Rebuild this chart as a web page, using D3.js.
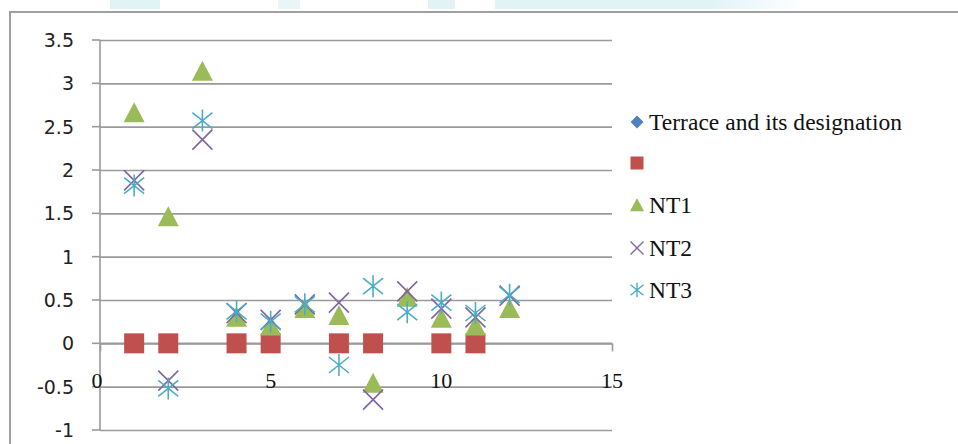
<!DOCTYPE html>
<html>
<head>
<meta charset="utf-8">
<script src="https://cdn.jsdelivr.net/npm/d3@7/dist/d3.min.js"></script>
<style>
html,body{margin:0;padding:0;background:#fff;}
svg{display:block;}
</style>
</head>
<body>
<svg id="chart" width="958" height="444"></svg>
<script>
// ---- data ----
const xValues = [1, 2, 3, 4, 5, 6, 7, 8, 9, 10, 11, 12];
const terraceValues = [];
const redX = [1, 2, 4, 5, 7, 8, 10, 11];
const redValues = [0, 0, 0, 0, 0, 0, 0, 0];
const nt1Values = [2.66, 1.46, 3.14, 0.3, 0.2, 0.4, 0.32, -0.46, 0.53, 0.29, 0.2, 0.4];
const nt2Values = [1.88, -0.43, 2.35, 0.35, 0.27, 0.45, 0.47, -0.65, 0.6, 0.4, 0.3, 0.55];
const nt3Values = [1.82, -0.52, 2.57, 0.37, 0.25, 0.45, -0.25, 0.66, 0.36, 0.47, 0.35, 0.56];
const yTicks = [-1, -0.5, 0, 0.5, 1, 1.5, 2, 2.5, 3, 3.5];
const xTicks = [0, 5, 10, 15];
const legendNames = ["Terrace and its designation", "", "NT1", "NT2", "NT3"];

const svg = d3.select("#chart");

// faint watermark band at top
const defs = svg.append("defs");
const grad = defs.append("linearGradient").attr("id", "wmfade").attr("x1", 0).attr("x2", 1);
grad.append("stop").attr("offset", "0%").attr("stop-color", "#e2f3f8");
grad.append("stop").attr("offset", "70%").attr("stop-color", "#e2f3f8");
grad.append("stop").attr("offset", "100%").attr("stop-color", "#ffffff");
const wm = [[110,50,"#e2f3f8"],[278,22,"#e8f5f9"],[428,27,"#e2f3f8"],[495,310,"url(#wmfade)"]];
svg.selectAll("rect.wm").data(wm).enter().append("rect")
  .attr("x", d => d[0]).attr("y", 0).attr("width", d => d[1]).attr("height", 9)
  .attr("fill", d => d[2]);

// frame
svg.append("rect").attr("x", 10).attr("y", 12).attr("width", 960).attr("height", 450)
  .attr("fill", "#fff").attr("stroke", "#a0a0a0").attr("stroke-width", 2);

const x = d3.scaleLinear().domain([0, 15]).range([100, 612]);
const y = d3.scaleLinear().domain([-1, 3.5]).range([430, 40]);

// y gridlines via axis
const yAxis = d3.axisLeft(y).tickValues(yTicks).tickSize(-(612 - 100)).tickFormat("");
const gy = svg.append("g").attr("transform", "translate(100,0)").call(yAxis);
gy.select(".domain").remove();
gy.selectAll("line").attr("stroke", "#9a9a9a").attr("stroke-width", 1.6);
// outer tick parts
svg.selectAll("line.ytick").data(yTicks).enter().append("line")
  .attr("x1", 92).attr("x2", 100).attr("y1", d => y(d)).attr("y2", d => y(d))
  .attr("stroke", "#9a9a9a").attr("stroke-width", 1.6);
// y axis line
svg.append("line").attr("x1", 100).attr("x2", 100).attr("y1", y(3.5)).attr("y2", y(-1))
  .attr("stroke", "#9a9a9a").attr("stroke-width", 1.6);
// y labels
svg.selectAll("text.ylab").data(yTicks).enter().append("text")
  .attr("x", 74).attr("y", d => y(d)).attr("dy", "0.36em")
  .attr("text-anchor", "end")
  .attr("font-family", "DejaVu Sans, sans-serif").attr("font-size", 19).attr("fill", "#222")
  .text(d => d);

// x axis at y = 0
const xAxis = d3.axisBottom(x).tickValues(xTicks).tickSize(8).tickFormat("");
const gx = svg.append("g").attr("transform", `translate(0,${y(0)})`).call(xAxis);
gx.select(".domain").attr("stroke", "#9a9a9a").attr("stroke-width", 1.6)
  .attr("d", `M${x(0)},0H${x(15)}`);
gx.selectAll("line").attr("stroke", "#9a9a9a").attr("stroke-width", 1.6);
svg.selectAll("text.xlab").data(xTicks).enter().append("text")
  .attr("x", d => x(d) - (d === 0 ? 3 : 0)).attr("y", 380).attr("dy", "0.36em")
  .attr("text-anchor", "middle")
  .attr("font-family", "Liberation Serif, serif").attr("font-size", 22).attr("fill", "#111")
  .text(d => d);

// marker shapes
const colors = ["#4f81bd", "#c0504d", "#9bbb59", "#8064a2", "#4bacc6"];
function diamond(s){ return `M0,${-s}L${s},0L0,${s}L${-s},0Z`; }
function square(s){ return `M${-s},${-s}H${s}V${s}H${-s}Z`; }
function tri(s){ return `M0,${-s}L${s},${s*0.9}L${-s},${s*0.9}Z`; }
function cross(s){ return `M${-s},${-s}L${s},${s}M${-s},${s}L${s},${-s}`; }
function star(s){ return `M${-s},${-s*0.8}L${s},${s*0.8}M${-s},${s*0.8}L${s},${-s*0.8}M0,${-s*1.1}V${s*1.1}`; }

const pts = svg.append("g");
pts.selectAll("path.red").data(redValues).enter().append("path")
  .attr("transform", (d, i) => `translate(${x(redX[i])},${y(d)})`)
  .attr("d", square(10)).attr("fill", colors[1]);
pts.selectAll("path.nt1").data(nt1Values).enter().append("path")
  .attr("transform", (d, i) => `translate(${x(xValues[i])},${y(d)})`)
  .attr("d", tri(10.5)).attr("fill", colors[2]);
pts.selectAll("path.nt2").data(nt2Values).enter().append("path")
  .attr("transform", (d, i) => `translate(${x(xValues[i])},${y(d)})`)
  .attr("d", cross(10)).attr("fill", "none").attr("stroke", colors[3]).attr("stroke-width", 1.6);
pts.selectAll("path.nt3").data(nt3Values).enter().append("path")
  .attr("transform", (d, i) => `translate(${x(xValues[i])},${y(d)})`)
  .attr("d", star(10)).attr("fill", "none").attr("stroke", colors[4]).attr("stroke-width", 1.6);

// legend
const legY = [122, 163, 205, 248, 290];
const legShapes = [diamond(6.5), square(6.5), tri(7), cross(6.5), star(6.5)];
const leg = svg.append("g");
legendNames.forEach((name, i) => {
  const p = leg.append("path").attr("transform", `translate(637,${legY[i]})`).attr("d", legShapes[i]);
  if (i >= 3) p.attr("fill", "none").attr("stroke", colors[i]).attr("stroke-width", 1.4);
  else p.attr("fill", colors[i]);
  leg.append("text").attr("x", 649).attr("y", legY[i]).attr("dy", "0.34em")
    .attr("font-family", "Liberation Serif, serif").attr("font-size", 23.5).attr("fill", "#111")
    .attr("textLength", i === 0 ? 253 : null)
    .text(name);
});
</script>
</body>
</html>
